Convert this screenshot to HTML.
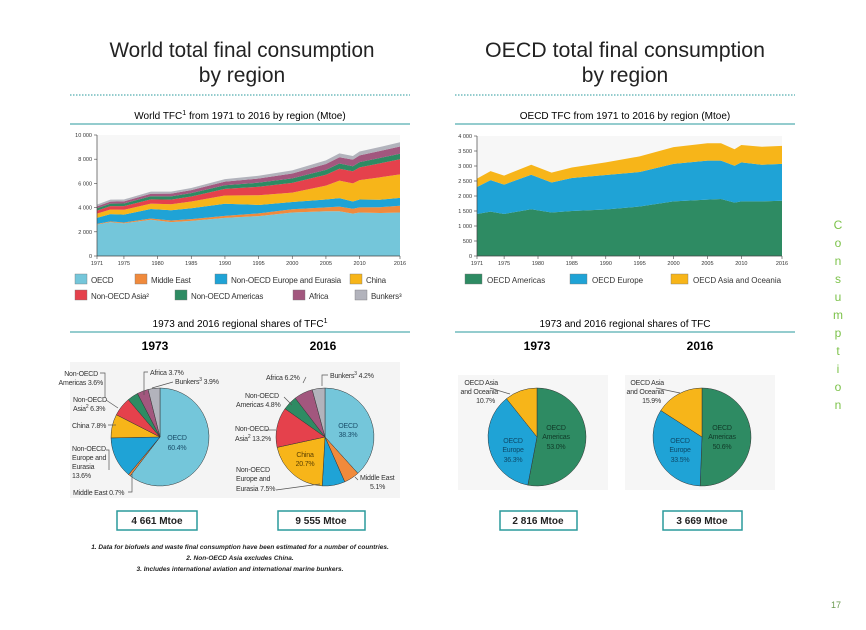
<!DOCTYPE html>
<html><head><meta charset="utf-8">
<style>
body{margin:0;background:#fff;}
svg{display:block;font-family:"Liberation Sans",sans-serif;}
</style></head>
<body>
<svg id="s" width="866" height="630" viewBox="0 0 866 630">
<g font-size="21" text-anchor="middle" fill="#222">
<text x="242" y="57" textLength="265" lengthAdjust="spacingAndGlyphs">World total final consumption</text>
<text x="242" y="82">by region</text></g>
<g font-size="21" text-anchor="middle" fill="#222">
<text x="625" y="57" textLength="280" lengthAdjust="spacingAndGlyphs">OECD total final consumption</text>
<text x="625" y="82">by region</text></g>
<line x1="70" y1="95" x2="410" y2="95" stroke="#2a9a9c" stroke-dasharray="1.5,1.5"/>
<line x1="455" y1="95" x2="795" y2="95" stroke="#2a9a9c" stroke-dasharray="1.5,1.5"/>
<text x="240" y="119" font-size="10" text-anchor="middle">World TFC<tspan font-size="7" dy="-4">1</tspan><tspan dy="4"> from 1971 to 2016 by region (Mtoe)</tspan></text>
<text x="625" y="119" font-size="10" text-anchor="middle">OECD TFC from 1971 to 2016 by region (Mtoe)</text>
<line x1="70" y1="124" x2="410" y2="124" stroke="#2a9a9c"/>
<line x1="455" y1="124" x2="795" y2="124" stroke="#2a9a9c"/>
<g id="wc"></g>
<g id="oc"></g>
<g id="wl"></g>
<g id="ol"></g>
<text x="240" y="327" font-size="10" text-anchor="middle">1973 and 2016 regional shares of TFC<tspan font-size="7" dy="-4">1</tspan></text>
<text x="625" y="327" font-size="10" text-anchor="middle">1973 and 2016 regional shares of TFC</text>
<line x1="70" y1="332" x2="410" y2="332" stroke="#2a9a9c"/>
<line x1="455" y1="332" x2="795" y2="332" stroke="#2a9a9c"/>
<g font-size="12" font-weight="bold" text-anchor="middle">
<text x="155" y="350">1973</text>
<text x="323" y="350">2016</text>
<text x="537" y="350">1973</text>
<text x="700" y="350">2016</text></g>
<rect x="70" y="362" width="160" height="136" fill="#f4f4f4"/>
<rect x="230" y="362" width="170" height="136" fill="#f4f4f4"/>
<rect x="458" y="375" width="150" height="115" fill="#f6f6f6"/>
<rect x="625" y="375" width="150" height="115" fill="#f6f6f6"/>
<g id="pies"></g>
<g font-size="7" fill="#333" stroke-width="0.7" letter-spacing="-0.2">
<text x="98" y="376" text-anchor="end">Non-OECD</text><text x="103" y="385" text-anchor="end">Americas 3.6%</text>
<polyline points="100,373 105,373 105,398" fill="none" stroke="#555"/>
<text x="150" y="375">Africa 3.7%</text><polyline points="148,372 144,372 144,395" fill="none" stroke="#555"/>
<text x="175" y="384">Bunkers<tspan font-size="5" dy="-3">3</tspan><tspan dy="3"> 3.9%</tspan></text><line x1="173" y1="382" x2="152" y2="388" stroke="#555"/>
<text x="73" y="402">Non-OECD</text><text x="73" y="411">Asia<tspan font-size="5" dy="-3">2</tspan><tspan dy="3"> 6.3%</tspan></text><line x1="106" y1="400" x2="118" y2="408" stroke="#555"/>
<text x="72" y="428">China 7.8%</text><line x1="108" y1="425" x2="116" y2="425" stroke="#555"/>
<text x="72" y="451">Non-OECD</text><text x="72" y="460">Europe and</text><text x="72" y="469">Eurasia</text><text x="72" y="478">13.6%</text>
<polyline points="106,450 109,450 109,470" fill="none" stroke="#555"/>
<text x="73" y="495">Middle East 0.7%</text><polyline points="128,492 132,492 132,474" fill="none" stroke="#555"/>
<text x="177" y="440" text-anchor="middle" fill="#1a4e6a">OECD</text><text x="177" y="450" text-anchor="middle" fill="#1a4e6a">60.4%</text>
<text x="266" y="380">Africa 6.2%</text><line x1="306" y1="377" x2="303" y2="383" stroke="#555"/>
<text x="330" y="378">Bunkers<tspan font-size="5" dy="-3">3</tspan><tspan dy="3"> 4.2%</tspan></text><polyline points="328,375 322,375 322,386" fill="none" stroke="#555"/>
<text x="245" y="398">Non-OECD</text><text x="236" y="407">Americas 4.8%</text><line x1="284" y1="397" x2="292" y2="405" stroke="#555"/>
<text x="235" y="431">Non-OECD</text><text x="235" y="441">Asia<tspan font-size="5" dy="-3">2</tspan><tspan dy="3"> 13.2%</tspan></text><line x1="266" y1="430" x2="276" y2="430" stroke="#555"/>
<text x="236" y="472">Non-OECD</text><text x="236" y="481">Europe and</text><text x="236" y="491">Eurasia 7.5%</text><line x1="276" y1="490" x2="320" y2="484" stroke="#555"/>
<text x="348" y="428" text-anchor="middle" fill="#1a4e6a">OECD</text><text x="348" y="437" text-anchor="middle" fill="#1a4e6a">38.3%</text>
<text x="305" y="457" text-anchor="middle" fill="#5a3f00">China</text><text x="305" y="466" text-anchor="middle" fill="#5a3f00">20.7%</text>
<text x="360" y="480">Middle East</text><text x="370" y="489">5.1%</text><line x1="355" y1="477" x2="358" y2="480" stroke="#555"/>
<text x="498" y="385" text-anchor="end">OECD Asia</text><text x="498" y="394" text-anchor="end">and Oceania</text><text x="495" y="403" text-anchor="end">10.7%</text><line x1="490" y1="388" x2="510" y2="394" stroke="#555"/>
<text x="556" y="430" text-anchor="middle" fill="#103a28">OECD</text><text x="556" y="439" text-anchor="middle" fill="#103a28">Americas</text><text x="556" y="449" text-anchor="middle" fill="#103a28">53.0%</text>
<text x="513" y="443" text-anchor="middle" fill="#0d4a6a">OECD</text><text x="513" y="452" text-anchor="middle" fill="#0d4a6a">Europe</text><text x="513" y="462" text-anchor="middle" fill="#0d4a6a">36.3%</text>
<text x="664" y="385" text-anchor="end">OECD Asia</text><text x="664" y="394" text-anchor="end">and Oceania</text><text x="661" y="403" text-anchor="end">15.9%</text><line x1="656" y1="388" x2="680" y2="393" stroke="#555"/>
<text x="722" y="430" text-anchor="middle" fill="#103a28">OECD</text><text x="722" y="439" text-anchor="middle" fill="#103a28">Americas</text><text x="722" y="449" text-anchor="middle" fill="#103a28">50.6%</text>
<text x="680" y="443" text-anchor="middle" fill="#0d4a6a">OECD</text><text x="680" y="452" text-anchor="middle" fill="#0d4a6a">Europe</text><text x="680" y="462" text-anchor="middle" fill="#0d4a6a">33.5%</text>
</g>
<g font-size="10" font-weight="bold" text-anchor="middle" fill="#222">
<rect x="117" y="511" width="80" height="19" fill="#fff" stroke="#2a9a9c" stroke-width="1.5"/><text x="157" y="524">4 661 Mtoe</text>
<rect x="278" y="511" width="87" height="19" fill="#fff" stroke="#2a9a9c" stroke-width="1.5"/><text x="321" y="524">9 555 Mtoe</text>
<rect x="500" y="511" width="77" height="19" fill="#fff" stroke="#2a9a9c" stroke-width="1.5"/><text x="538" y="524">2 816 Mtoe</text>
<rect x="663" y="511" width="79" height="19" fill="#fff" stroke="#2a9a9c" stroke-width="1.5"/><text x="702" y="524">3 669 Mtoe</text></g>
<g font-size="6.5" font-style="italic" font-weight="bold" text-anchor="middle" fill="#222">
<text x="240" y="549">1. Data for biofuels and waste final consumption have been estimated for a number of countries.</text>
<text x="240" y="560">2. Non-OECD Asia excludes China.</text>
<text x="240" y="571">3. Includes international aviation and international marine bunkers.</text></g>
<g fill="#7cc24a" font-size="12" text-anchor="middle">
<text x="838" y="229">C</text><text x="838" y="247">o</text><text x="838" y="265">n</text><text x="838" y="283">s</text><text x="838" y="301">u</text><text x="838" y="319">m</text><text x="838" y="337">p</text><text x="838" y="355">t</text><text x="838" y="373">i</text><text x="838" y="391">o</text><text x="838" y="409">n</text></g>
<text x="836" y="608" font-size="9" fill="#6a9a50" text-anchor="middle">17</text>
</svg>
<script>
const years=[1971,1973,1975,1979,1982,1985,1990,1995,2000,2005,2007,2009,2010,2013,2016];
const wOECD=[2600,2800,2700,3000,2800,2900,3150,3300,3600,3700,3700,3500,3600,3550,3600];
const wME=[50,60,70,100,130,150,170,220,260,320,380,400,420,480,550];
const wNOEE=[500,600,650,780,850,900,1000,700,600,650,700,600,650,620,650];
const wChina=[350,380,400,450,500,550,680,800,780,1150,1450,1500,1600,1850,1950];
const wNOAsia=[250,280,300,350,380,420,550,700,800,900,980,1000,1050,1150,1250];
const wNOAm=[200,210,220,260,270,280,300,340,380,400,430,420,440,450,450];
const wAfrica=[150,160,170,200,220,240,300,340,400,480,520,540,560,580,600];
const wBunkers=[150,170,160,180,170,180,200,230,260,300,320,300,320,330,350];
const oAmericas=[1400,1480,1400,1560,1450,1500,1550,1650,1820,1880,1900,1780,1820,1820,1840];
const oEurope=[900,1050,980,1150,1000,1100,1150,1150,1250,1300,1280,1230,1300,1220,1230];
const oAsia=[280,300,300,330,330,350,420,520,560,580,580,550,580,600,600];
const wTicks=[0,2000,4000,6000,8000,10000];
const wTickLabels=["0","2 000","4 000","6 000","8 000","10 000"];
const oTicks=[0,500,1000,1500,2000,2500,3000,3500,4000];
const oTickLabels=["0","500","1 000","1 500","2 000","2 500","3 000","3 500","4 000"];
const xTicks=[1971,1975,1980,1985,1990,1995,2000,2005,2010,2016];
const share1973=[60.4,0.7,13.6,7.8,6.3,3.6,3.7,3.9];
const share2016=[38.3,5.1,7.5,20.7,13.2,4.8,6.2,4.2];
const oShare1973=[53.0,36.3,10.7];
const oShare2016=[50.6,33.5,15.9];
const wNames=["OECD","Middle East","Non-OECD Europe and Eurasia","China","Non-OECD Asia","Non-OECD Americas","Africa","Bunkers"];
const oNames=["OECD Americas","OECD Europe","OECD Asia and Oceania"];
const wCol=["#74c6da","#f08a3c","#1fa3d6","#f7b519","#e5414c","#2e8b63","#a2577e","#b2b3bc"];
const oCol=["#2e8b63","#1fa3d6","#f7b519"];
const NS="http://www.w3.org/2000/svg";
function mk(t,a,p){const e=document.createElementNS(NS,t);for(const k in a)e.setAttribute(k,a[k]);p.appendChild(e);return e;}
function area(g,series,cols,names,x0,x1,y0,y1,max,ticks,labels){
 const X=v=>x0+(v-1971)/(2016-1971)*(x1-x0), Y=v=>y0-(v/max)*(y0-y1);
 mk('rect',{x:x0,y:y1,width:x1-x0,height:y0-y1,fill:'#f7f7f7'},g);
 let base=years.map(()=>0);
 series.forEach((s,i)=>{const top=base.map((b,j)=>b+s[j]);
  let d='M'+years.map((y,j)=>X(y)+','+Y(top[j])).join('L');
  for(let j=years.length-1;j>=0;j--)d+='L'+X(years[j])+','+Y(base[j]);
  const p=mk('path',{d:d+'Z',fill:cols[i]},g);
  
  
  base=top;});
 mk('line',{x1:x0,y1:y1,x2:x0,y2:y0,stroke:'#444','stroke-width':0.7},g);
 mk('line',{x1:x0,y1:y0,x2:x1,y2:y0,stroke:'#444','stroke-width':0.7},g);
 ticks.forEach((t,i)=>{mk('line',{x1:x0-3,y1:Y(t),x2:x0,y2:Y(t),stroke:'#444','stroke-width':0.6},g);
  const tx=mk('text',{x:x0-5,y:Y(t)+2,'font-size':5.5,'text-anchor':'end',fill:'#333'},g);tx.textContent=labels[i];
  
  });
 xTicks.forEach(t=>{mk('line',{x1:X(t),y1:y0,x2:X(t),y2:y0+3,stroke:'#444','stroke-width':0.6},g);
  const tx=mk('text',{x:X(t),y:y0+9,'font-size':5.5,'text-anchor':'middle',fill:'#333'},g);tx.textContent=t;
  
  });
}
area(document.getElementById('wc'),[wOECD,wME,wNOEE,wChina,wNOAsia,wNOAm,wAfrica,wBunkers],wCol,wNames,97,400,256,135,10000,wTicks,wTickLabels);
area(document.getElementById('oc'),[oAmericas,oEurope,oAsia],oCol,oNames,477,782,256,136,4000,oTicks,oTickLabels);
const wl=document.getElementById('wl');
const wPos=[[75,280],[135,280],[215,280],[350,280],[75,296],[175,296],[293,296],[355,296]];
const wLab=["OECD","Middle East","Non-OECD Europe and Eurasia","China","Non-OECD Asia²","Non-OECD Americas","Africa","Bunkers³"];
wPos.forEach((p,i)=>{const r=mk('rect',{x:p[0],y:p[1]-6,width:12,height:10,fill:wCol[i],stroke:'#777','stroke-width':0.4},wl);
 
 
 const t=mk('text',{x:p[0]+16,y:p[1]+3,'font-size':8,'letter-spacing':-0.2,fill:'#333'},wl);t.textContent=wLab[i];
 if(i==2){t.setAttribute('textLength','110');t.setAttribute('lengthAdjust','spacingAndGlyphs');}
 
 });
const ol=document.getElementById('ol');
const oPos=[[465,280],[570,280],[671,280]];
oPos.forEach((p,i)=>{const r=mk('rect',{x:p[0],y:p[1]-6,width:17,height:10,fill:oCol[i],stroke:'#777','stroke-width':0.4},ol);
 
 
 const t=mk('text',{x:p[0]+22,y:p[1]+3,'font-size':8,fill:'#333'},ol);t.textContent=oNames[i];
 
 });
const pg=document.getElementById('pies');
function pie(cx,cy,r,vals,cols,name){let a=0;const tot=vals.reduce((s,v)=>s+v,0);
 vals.forEach((v,i)=>{const a0=a/tot*2*Math.PI,a1=(a+v)/tot*2*Math.PI;a+=v;
  const x0=cx+r*Math.sin(a0),y0=cy-r*Math.cos(a0),x1=cx+r*Math.sin(a1),y1=cy-r*Math.cos(a1);
  const p=mk('path',{d:`M${cx},${cy}L${x0},${y0}A${r},${r} 0 ${a1-a0>Math.PI?1:0} 1 ${x1},${y1}Z`,fill:cols[i],stroke:'#333','stroke-width':0.5},pg);
  
  });}
pie(160,437,49,share1973,wCol,'pie-1973');
pie(325,437,49,share2016,wCol,'pie-2016');
pie(537,437,49,oShare1973,oCol,'oecd-pie-1973');
pie(702,437,49,oShare2016,oCol,'oecd-pie-2016');
</script>
</body></html>
